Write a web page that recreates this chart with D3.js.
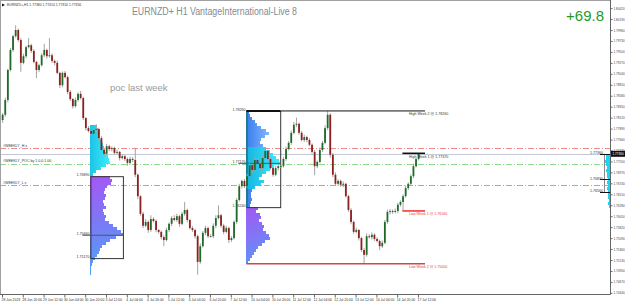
<!DOCTYPE html>
<html>
<head>
<meta charset="utf-8">
<script src="https://cdn.jsdelivr.net/npm/d3@7"></script>
<style>
  body { margin: 0; background: #fff; }
  svg { font-family: Arial, "Liberation Sans", sans-serif; }
</style>
</head>
<body>
<div id="chart"></div>
<script>
/* DATA */
const timeLabels = ["28 Jun 2023", "28 Jun 20:00", "29 Jun 12:00", "30 Jun 04:00", "30 Jun 20:00",
  "3 Jul 12:00", "4 Jul 04:00", "4 Jul 20:00", "5 Jul 12:00", "6 Jul 04:00", "6 Jul 20:00",
  "7 Jul 12:00", "10 Jul 04:00", "10 Jul 20:00", "11 Jul 12:00", "12 Jul 04:00", "12 Jul 20:00",
  "13 Jul 12:00", "14 Jul 04:00", "14 Jul 20:00", "17 Jul 12:00"];

const priceTicks = [1.74440, 1.74670, 1.74900, 1.75130, 1.75360, 1.75590, 1.75820, 1.76050, 1.76280,
  1.76510, 1.76740, 1.76970, 1.77200, 1.77430, 1.77660, 1.77890, 1.78120, 1.78350, 1.78580,
  1.78810, 1.79040, 1.79270, 1.79500, 1.79730, 1.79960, 1.80190, 1.80420];

// 2-hour candles, open = previous close
const firstOpen = 1.7807;
const closes = [
  1.7818, 1.7849, 1.7912, 1.7954, 1.7983, 1.7996, 1.7975, 1.7927, 1.7941, 1.7960,
  1.7964, 1.7952, 1.7929, 1.7912, 1.7922, 1.7943, 1.7954, 1.7941, 1.7943, 1.7931,
  1.7927, 1.7906, 1.7880, 1.7906, 1.7897, 1.7866, 1.7851, 1.7836, 1.7849, 1.7862,
  1.7853, 1.7811, 1.7790, 1.7784, 1.7778, 1.7786, 1.7788, 1.7769, 1.7744, 1.7736,
  1.7752, 1.7746, 1.7748, 1.7738, 1.7740, 1.7727, 1.7731, 1.7725, 1.7717, 1.7725,
  1.7723, 1.7692, 1.7647, 1.7610, 1.7585, 1.7593, 1.7576, 1.7599, 1.7595, 1.7576,
  1.7572, 1.7561, 1.7555, 1.7576, 1.7589, 1.7601, 1.7597, 1.7605, 1.7589, 1.7610,
  1.7618, 1.7597, 1.7580, 1.7576, 1.7563, 1.7509, 1.7542, 1.7570, 1.7580, 1.7563,
  1.7563, 1.7585, 1.7601, 1.7607, 1.7585, 1.7572, 1.7580, 1.7555, 1.7559, 1.7593,
  1.7639, 1.7668, 1.7679, 1.7668, 1.7689, 1.7712, 1.7702, 1.7723, 1.7715, 1.7706,
  1.7727, 1.7742, 1.7725, 1.7706, 1.7692, 1.7706, 1.7710, 1.7710, 1.7725, 1.7746,
  1.7759, 1.7780, 1.7797, 1.7799, 1.7780, 1.7765, 1.7771, 1.7765, 1.7755, 1.7740,
  1.7710, 1.7719, 1.7744, 1.7759, 1.7790, 1.7818, 1.7734, 1.7692, 1.7673, 1.7679,
  1.7671, 1.7673, 1.7647, 1.7618, 1.7593, 1.7572, 1.7576, 1.7559, 1.7534, 1.7524,
  1.7563, 1.7561, 1.7566, 1.7557, 1.7553, 1.7542, 1.7549, 1.7593, 1.7614, 1.7616,
  1.7614, 1.7616, 1.7629, 1.7635, 1.7647, 1.7664, 1.7673, 1.7689, 1.7710, 1.7725,
  1.7736];
// wick lengths in pips
const upperWick = [
  4, 5, 3, 4, 3, 10, 3, 4, 5, 3,   15, 3, 4, 2, 3, 4, 13, 3, 36, 4,
  3, 5, 2, 3, 4, 3, 4, 2, 5, 3,    6, 3, 2, 4, 3, 3, 10, 3, 4, 2,
  5, 3, 4, 3, 5, 2, 4, 3, 3, 5,    4, 25, 3, 2, 4, 6, 3, 8, 4, 3,
  2, 3, 4, 5, 3, 4, 6, 5, 3, 4,    17, 3, 2, 4, 3, 3, 6, 4, 5, 3,
  4, 5, 6, 21, 3, 4, 5, 3, 4, 3,   4, 5, 3, 4, 5, 4, 3, 6, 4, 3,
  5, 8, 3, 4, 2, 5, 4, 3, 4, 5,    4, 5, 6, 13, 3, 4, 5, 3, 4, 3,
  4, 3, 5, 4, 6, 8, 3, 4, 5, 4,    3, 5, 2, 3, 4, 3, 5, 2, 3, 4,
  6, 4, 5, 3, 4, 3, 5, 4, 5, 4,    3, 5, 4, 3, 4, 5, 3, 4, 5, 3,
  1];
const lowerWick = [
  6, 4, 5, 3, 4, 3, 4, 19, 3, 4,   3, 4, 3, 17, 4, 3, 4, 5, 3, 4,
  5, 3, 6, 4, 3, 5, 4, 5, 3, 4,    3, 4, 5, 3, 4, 3, 4, 5, 3, 6,
  3, 4, 5, 3, 4, 5, 3, 4, 6, 3,    4, 5, 6, 4, 5, 3, 6, 4, 3, 5,
  4, 5, 13, 3, 4, 5, 3, 4, 6, 3,   4, 5, 3, 4, 5, 27, 4, 3, 5, 4,
  3, 4, 5, 3, 4, 5, 3, 6, 4, 3,    4, 3, 5, 4, 3, 4, 5, 3, 4, 5,
  3, 4, 5, 3, 4, 3, 5, 4, 3, 4,    3, 4, 3, 5, 4, 3, 4, 5, 3, 4,
  19, 4, 3, 4, 3, 4, 6, 5, 4, 3,   4, 5, 3, 4, 5, 4, 3, 5, 4, 19,
  4, 3, 5, 4, 3, 8, 4, 3, 4, 5,    4, 3, 5, 4, 19, 3, 4, 3, 4, 3,
  3];

// week starts (H1 bar index)
const weekStarts = [68, 188, 308];

// dash-dot levels of last week
const levelPrices = [1.7748, 1.7715, 1.7670];
const levelNames = ["#WEEKLY_H s", "#WEEKLY_POC by 1.0.0 1.00", "#WEEKLY_L s"];

// volume profiles (bin = 0.00063)
const binStep = 0.00063;
const p1UpperTop = 1.7797;
const p1UpperVol = [7, 8, 10, 9, 10, 12, 13, 14, 15, 17, 18, 19, 20, 16, 11, 6, 3];
const p1LowerTop = 1.7689;
const p1LowerVol = [20, 22, 21, 17, 15, 14, 16, 15, 13, 14, 16, 13, 14, 16, 15, 19, 23, 27, 31, 33,
  26, 20, 16, 12, 10, 9, 7, 5, 3, 2, 1, 1, 1];
const p1Box = [1.7689, 1.7566, 1.7517]; // top, poc, bottom
const p1BoxEnd = 93;

const p2UpperTop = 1.7826;
const p2UpperVol = [3, 4, 6, 9, 11, 15, 20, 23, 19, 15, 14, 17, 20, 24, 27, 30, 33, 34, 28, 24,
  20, 16, 13, 18, 15, 9, 6, 5, 5, 6, 5, 4];
const p2ValueArea = [12, 25];
const p2LowerTop = 1.7624;
const p2LowerVol = [12, 10, 14, 15, 13, 16, 18, 17, 20, 23, 24, 19, 16, 12, 10, 8, 6, 4, 2];
const p2Box = [1.7826, 1.7717, 1.7624];
const p2BoxEnd = 214;

const p3Top = 1.7736;
const p3Vol = [4, 4, 5, 4, 3, 4, 3, 3, 2, 3, 2, 3, 2, 2, 2, 1, 2, 1];
const p3Marks = [1.7736, 1.7683, 1.7656];

const headerText = "EURNZD+,H1  1.77380 1.77410 1.77310 1.77356";
const titleText = "EURNZD+ H1 VantageInternational-Live 8";
const profitText = "+69.8";

/* SCALES */
const width = 625, height = 301;
const axisX = 610, axisY = 294;
const x = d3.scaleLinear().domain([0, 320]).range([2, 418]);
const y = d3.scaleLinear().domain([1.74416, 1.80548]).range([axisY, 2]);
const vol = d3.scaleLinear().domain([0, 10]).range([0, 10]);
const fmt = d3.format(".5f");
const lineEnd = 425;

const candles = closes.map((c, k) => {
  const o = k === 0 ? firstOpen : closes[k - 1];
  return { k, idx: 2 * k, o, c,
    h: Math.max(o, c) + upperWick[k] / 1e4,
    l: Math.min(o, c) - lowerWick[k] / 1e4 };
});
const week2 = candles.filter(d => d.idx >= weekStarts[1] && d.idx < weekStarts[2]);
const week1 = candles.filter(d => d.idx >= weekStarts[2]);
const hiW2 = d3.max(week2, d => d.h), loW2 = d3.min(week2, d => d.l);
const hiW1 = d3.max(week1, d => d.h), loW1 = d3.min(week1, d => d.l);
const lastPrice = closes[closes.length - 1];

/* SVG */
const svg = d3.select("#chart").append("svg")
  .attr("width", width).attr("height", height)
  .style("display", "block");

svg.append("rect").attr("width", width).attr("height", height).attr("fill", "#fff");

const defs = svg.append("defs");
defs.append("clipPath").attr("id", "plotClip")
  .append("rect").attr("x", 0).attr("y", 0).attr("width", axisX).attr("height", axisY);

function grad(id, x1, y1, x2, y2, stops) {
  const g = defs.append("linearGradient").attr("id", id)
    .attr("gradientUnits", "userSpaceOnUse")
    .attr("x1", x1).attr("y1", y1).attr("x2", x2).attr("y2", y2);
  stops.forEach(([o, c]) => g.append("stop").attr("offset", o).attr("stop-color", c));
}
grad("gCyan1", x(68), 0, x(68) + 22, 0, [[0, "#1cc4e6"], [1, "#3ff3ff"]]);
grad("gPurple1", x(68), y(p1LowerTop), x(68) + 28, y(p1LowerTop) + 95,
  [[0, "#a656f4"], [0.55, "#7480f6"], [1, "#48a6f6"]]);
grad("gBlue2", x(188), 0, x(188) + 36, 0, [[0, "#3a7cf0"], [1, "#a9dcff"]]);
grad("gCyan2", x(188), 0, x(188) + 36, 0, [[0, "#16b4e0"], [1, "#42f2ff"]]);
grad("gPurple2", x(188), y(p2LowerTop), x(188) + 25, y(p2LowerTop) + 58,
  [[0, "#a258f4"], [0.55, "#7a7cf6"], [1, "#4aa2f6"]]);

const plot = svg.append("g").attr("clip-path", "url(#plotClip)");

// frame
svg.append("line").attr("x1", 0).attr("x2", axisX).attr("y1", 0.5).attr("y2", 0.5).attr("stroke", "#a0a0a0");
svg.append("line").attr("x1", 0.5).attr("x2", 0.5).attr("y1", 0).attr("y2", axisY).attr("stroke", "#a0a0a0");

// level lines
const levelColors = ["#f28b8b", "#8fd88f", "#f28b8b"];
plot.selectAll("line.level")
  .data(levelPrices)
  .join("line")
  .attr("class", "level")
  .attr("x1", 0).attr("x2", axisX)
  .attr("y1", d => Math.round(y(d)) + 0.5).attr("y2", d => Math.round(y(d)) + 0.5)
  .attr("stroke", (d, i) => levelColors[i])
  .attr("stroke-dasharray", "6,2,1,2");

plot.selectAll("text.level")
  .data(levelPrices)
  .join("text")
  .attr("class", "level")
  .attr("x", 3).attr("y", d => y(d) - 1.5)
  .attr("font-size", 3.6).attr("fill", "#333")
  .text((d, i) => levelNames[i]);

// bid line
plot.append("line")
  .attr("x1", 0).attr("x2", axisX)
  .attr("y1", Math.round(y(lastPrice)) + 0.5).attr("y2", Math.round(y(lastPrice)) + 0.5)
  .attr("stroke", "#c4cad4");

// volume profiles
function drawProfile(startIdx, top, vols, fill, fillVA, va) {
  const x0 = x(startIdx);
  plot.append("g").selectAll("rect")
    .data(vols)
    .join("rect")
    .attr("x", x0)
    .attr("y", (d, i) => y(top - i * binStep))
    .attr("width", d => vol(d))
    .attr("height", (d, i) => y(top - (i + 1) * binStep) - y(top - i * binStep))
    .attr("fill", (d, i) => va && i >= va[0] && i <= va[1] ? fillVA : fill)
    .attr("shape-rendering", "crispEdges");
}
drawProfile(68, p1UpperTop, p1UpperVol, "url(#gCyan1)");
drawProfile(68, p1LowerTop, p1LowerVol, "url(#gPurple1)");
drawProfile(188, p2UpperTop, p2UpperVol, "url(#gBlue2)", "url(#gCyan2)", p2ValueArea);
drawProfile(188, p2LowerTop, p2LowerVol, "url(#gPurple2)");

// current week profile, anchored on the right edge
plot.append("g").selectAll("rect")
  .data(p3Vol)
  .join("rect")
  .attr("x", d => axisX - vol(d))
  .attr("y", (d, i) => y(p3Top - i * binStep))
  .attr("width", d => vol(d))
  .attr("height", (d, i) => y(p3Top - (i + 1) * binStep) - y(p3Top - i * binStep))
  .attr("fill", "#1ad6f2")
  .attr("shape-rendering", "crispEdges");

plot.append("line")
  .attr("x1", 604.5).attr("x2", 604.5)
  .attr("y1", y(p3Marks[0])).attr("y2", y(p3Marks[2]) + 1)
  .attr("stroke", "#8a8a8a");
plot.selectAll("line.p3mark")
  .data(p3Marks)
  .join("line")
  .attr("class", "p3mark")
  .attr("x1", 600).attr("x2", axisX)
  .attr("y1", d => Math.round(y(d)) + 0.5).attr("y2", d => Math.round(y(d)) + 0.5)
  .attr("stroke", "#111");
svg.selectAll("text.p3mark")
  .data(p3Marks)
  .join("text")
  .attr("class", "p3mark")
  .attr("x", 603).attr("y", d => y(d) + 0.5)
  .attr("text-anchor", "end")
  .attr("font-size", 3.6).attr("fill", "#333")
  .text(d => fmt(d));

// value boxes
function drawBox(startIdx, endIdx, vals, leftColor) {
  const x0 = x(startIdx), x1 = x(endIdx);
  const g = plot.append("g");
  g.append("rect")
    .attr("x", x0 + 0.5).attr("y", y(vals[0]) + 0.5)
    .attr("width", x1 - x0).attr("height", y(vals[2]) - y(vals[0]))
    .attr("fill", "none").attr("stroke", "#333");
  if (leftColor) {
    g.append("line").attr("x1", x0 + 0.5).attr("x2", x0 + 0.5)
      .attr("y1", y(vals[0])).attr("y2", y(vals[2]))
      .attr("stroke", leftColor).attr("stroke-width", 1.2);
  }
  g.append("line")
    .attr("x1", x0 - 8).attr("x2", x1)
    .attr("y1", y(vals[1]) + 0.5).attr("y2", y(vals[1]) + 0.5)
    .attr("stroke", "#555");
  g.selectAll("text")
    .data(vals)
    .join("text")
    .attr("x", x0 - 1).attr("y", d => y(d) + 0.2)
    .attr("text-anchor", "end")
    .attr("font-size", 3.6).attr("fill", "#333")
    .text(d => fmt(d));
}
drawBox(68, p1BoxEnd, p1Box);
drawBox(188, p2BoxEnd, p2Box, "#178c9e");

// candles
const cg = plot.append("g");
cg.selectAll("line.wick")
  .data(candles)
  .join("line")
  .attr("class", "wick")
  .attr("x1", d => x(d.idx + 0.5)).attr("x2", d => x(d.idx + 0.5))
  .attr("y1", d => y(d.h)).attr("y2", d => y(d.l))
  .attr("stroke", "#a3a3a3").attr("stroke-width", 1);
cg.selectAll("rect.body")
  .data(candles)
  .join("rect")
  .attr("class", "body")
  .attr("x", d => x(d.idx + 0.5) - 0.9)
  .attr("y", d => y(Math.max(d.o, d.c)))
  .attr("width", 1.8)
  .attr("height", d => Math.max(0.8, Math.abs(y(d.o) - y(d.c))))
  .attr("fill", d => d.c >= d.o ? "#1f6b28" : "#8e1f1f");

// weekly high / low lines
const weekLines = [
  { v: hiW2, from: weekStarts[1], color: "#111", w: 1, label: `High Week 2 @ ${fmt(hiW2)}` },
  { v: loW2, from: weekStarts[1], color: "#d04545", w: 1.4, label: `Low Week 2 @ ${fmt(loW2)}` },
  { v: hiW1, from: weekStarts[2], color: "#111", w: 1.6, label: `High Week 1 @ ${fmt(hiW1)}` },
  { v: loW1, from: weekStarts[2], color: "#f03a3a", w: 1.6, label: `Low Week 1 @ ${fmt(loW1)}` }
];
plot.selectAll("line.week")
  .data(weekLines)
  .join("line")
  .attr("class", "week")
  .attr("x1", d => x(d.from)).attr("x2", lineEnd)
  .attr("y1", d => y(d.v)).attr("y2", d => y(d.v))
  .attr("stroke", d => d.color).attr("stroke-width", d => d.w);
plot.append("line")
  .attr("x1", x(188)).attr("x2", x(p2BoxEnd))
  .attr("y1", y(hiW2)).attr("y2", y(hiW2))
  .attr("stroke", "#111").attr("stroke-width", 2);
plot.selectAll("text.week")
  .data(weekLines)
  .join("text")
  .attr("class", "week")
  .attr("x", 409).attr("y", d => y(d.v) + 4.2)
  .attr("font-size", 3.6)
  .attr("fill", d => d.color === "#111" ? "#333" : d.color)
  .text(d => d.label);

/* AXES */
const yAxis = d3.axisRight(y)
  .tickValues(priceTicks)
  .tickFormat(fmt)
  .tickSize(2).tickPadding(1);
const yg = svg.append("g").attr("transform", `translate(${axisX + 0.5},0)`).call(yAxis);
yg.select(".domain").attr("d", `M0,0V${axisY + 0.5}`).attr("stroke", "#666");
yg.selectAll(".tick line").attr("stroke", "#666");
yg.selectAll(".tick text").attr("font-size", 3.1).attr("fill", "#444").attr("font-family", "Arial, sans-serif");

const xAxis = d3.axisBottom(x)
  .tickValues(d3.range(timeLabels.length).map(i => i * 16))
  .tickFormat((d, i) => timeLabels[i])
  .tickSize(3).tickPadding(1);
const xg = svg.append("g").attr("transform", `translate(0,${axisY + 0.5})`).call(xAxis);
xg.select(".domain").attr("d", `M0,0H${axisX + 0.5}`).attr("stroke", "#666");
xg.selectAll(".tick line").attr("stroke", "#666");
xg.selectAll(".tick text").attr("font-size", 3.4).attr("fill", "#333")
  .attr("text-anchor", "start").attr("dx", -1).attr("font-family", "Arial, sans-serif");

// current price marker
const py = y(lastPrice);
svg.append("rect").attr("x", axisX + 1).attr("y", py - 3).attr("width", 14).attr("height", 6).attr("fill", "#111");
svg.append("text").attr("x", axisX + 2.5).attr("y", py + 1.2)
  .attr("font-size", 3.1).attr("fill", "#fff").text(fmt(lastPrice));

/* TEXTS */
svg.append("path").attr("d", "M2,3.5L5,5L2,6.5Z").attr("fill", "#111");
svg.append("text").attr("x", 7).attr("y", 6.4).attr("font-size", 3.4).attr("fill", "#333").text(headerText);

svg.append("text").attr("x", 132).attr("y", 15)
  .attr("font-size", 10).attr("fill", "#848b93")
  .attr("textLength", 165).attr("lengthAdjust", "spacingAndGlyphs")
  .text(titleText);

svg.append("text").attr("x", 604).attr("y", 21)
  .attr("text-anchor", "end")
  .attr("font-size", 15).attr("fill", "#1f9a1f")
  .text(profitText);

svg.append("text").attr("x", 110).attr("y", 91)
  .attr("font-size", 9.5).attr("fill", "#9a9a9a")
  .text("poc last week");
</script>
</body>
</html>
